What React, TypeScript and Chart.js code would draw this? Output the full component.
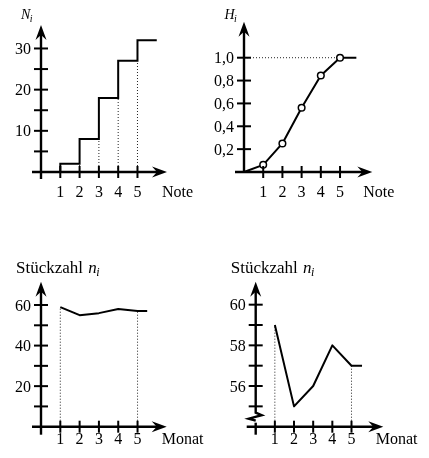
import React, { useEffect, useRef } from "react";
import { Chart, registerables } from "chart.js";
Chart.register(...registerables);

// ---------- data ----------
const notes = [1, 2, 3, 4, 5];
const cumCounts = [2, 8, 18, 27, 32]; // N_i
const relCum = [0.0625, 0.25, 0.5625, 0.84375, 1.0]; // H_i
const months = [1, 2, 3, 4, 5];
const pieces = [59, 55, 56, 58, 57]; // Stückzahl n_i

const yTicksN = [5, 10, 15, 20, 25, 30];
const yLabelsN = [10, 20, 30];
const yTicksH = [0.2, 0.4, 0.6, 0.8, 1.0];
const yLabelsH = [0.2, 0.4, 0.6, 0.8, 1.0];
const yTicksP = [10, 20, 30, 40, 50, 60];
const yLabelsP = [20, 40, 60];
const yTicksZ = [55, 56, 57, 58, 59, 60];
const yLabelsZ = [56, 58, 60];

const SERIF = '"Liberation Serif"';

type Ctx = CanvasRenderingContext2D;

function arrowUp(ctx: Ctx, x: number, y: number) {
  ctx.beginPath();
  ctx.moveTo(x, y);
  ctx.lineTo(x + 5.5, y + 15);
  ctx.lineTo(x, y + 10);
  ctx.lineTo(x - 5.5, y + 15);
  ctx.closePath();
  ctx.fill();
}
function arrowRight(ctx: Ctx, x: number, y: number) {
  ctx.beginPath();
  ctx.moveTo(x, y);
  ctx.lineTo(x - 15, y - 5.5);
  ctx.lineTo(x - 10, y);
  ctx.lineTo(x - 15, y + 5.5);
  ctx.closePath();
  ctx.fill();
}

type Deco = {
  xTicks: number[];
  yTicks: number[];
  yLabels: number[];
  fmt: (v: number) => string;
  xLabelDy: number;
  xTitle: string;
  xTitleDx: number;
  yTitle: (ctx: Ctx, x0: number, top: number) => void;
  yBreak?: boolean;
  yBottomExt: number;
  dotted: (chart: any, ctx: Ctx) => void;
};

function makePlugin(d: Deco) {
  return {
    id: "deco",
    beforeDatasetsDraw(chart: any) {
      const ctx: Ctx = chart.ctx;
      ctx.save();
      ctx.strokeStyle = "#222";
      ctx.lineWidth = 1;
      ctx.setLineDash([1, 2]);
      d.dotted(chart, ctx);
      ctx.restore();
    },
    afterDatasetsDraw(chart: any) {
      const ctx: Ctx = chart.ctx;
      const xs = chart.scales.x;
      const ys = chart.scales.y;
      const ca = chart.chartArea;
      const x0 = ca.left;
      const y0 = ca.bottom;
      ctx.save();
      ctx.strokeStyle = "#000";
      ctx.fillStyle = "#000";
      ctx.lineWidth = 2.4;
      ctx.lineCap = "butt";
      // x axis
      ctx.beginPath();
      ctx.moveTo(x0 - 9, y0);
      ctx.lineTo(ca.right - 8, y0);
      ctx.stroke();
      arrowRight(ctx, ca.right, y0);
      // y axis
      ctx.beginPath();
      if (d.yBreak) {
        ctx.moveTo(x0, ca.top + 8);
        ctx.lineTo(x0, y0 - 14);
        ctx.lineTo(x0 + 6, y0 - 11.5);
        ctx.lineTo(x0 - 7, y0 - 8);
        ctx.lineTo(x0, y0 - 6);
        ctx.stroke();
        ctx.beginPath();
        ctx.moveTo(x0, y0 - 4);
        ctx.lineTo(x0, y0 + d.yBottomExt);
      } else {
        ctx.moveTo(x0, y0 + d.yBottomExt);
        ctx.lineTo(x0, ca.top + 8);
      }
      ctx.stroke();
      arrowUp(ctx, x0, ca.top);
      // ticks
      ctx.lineWidth = 2;
      d.xTicks.forEach((v) => {
        const px = xs.getPixelForValue(v);
        ctx.beginPath();
        ctx.moveTo(px, y0 - 6);
        ctx.lineTo(px, y0 + 6);
        ctx.stroke();
      });
      d.yTicks.forEach((v) => {
        const py = ys.getPixelForValue(v);
        ctx.beginPath();
        ctx.moveTo(x0 - 7, py);
        ctx.lineTo(x0 + 7, py);
        ctx.stroke();
      });
      // labels
      ctx.font = `16px ${SERIF}`;
      ctx.textAlign = "center";
      ctx.textBaseline = "alphabetic";
      d.xTicks.forEach((v) => {
        ctx.fillText(String(v), xs.getPixelForValue(v), y0 + d.xLabelDy);
      });
      ctx.textAlign = "right";
      d.yLabels.forEach((v) => {
        ctx.fillText(d.fmt(v), x0 - 10, ys.getPixelForValue(v) + 5.5);
      });
      ctx.textAlign = "left";
      ctx.fillText(d.xTitle, ca.right + d.xTitleDx, y0 + d.xLabelDy);
      d.yTitle(ctx, x0, ca.top);
      ctx.restore();
    },
  };
}

function italicSub(ctx: Ctx, letter: string, x: number, y: number, size: number) {
  ctx.font = `italic ${size}px ${SERIF}`;
  ctx.fillText(letter, x, y);
  const w = ctx.measureText(letter).width;
  ctx.font = `italic ${Math.round(size * 0.72)}px ${SERIF}`;
  ctx.fillText("i", x + w - 0.5, y + 3);
}

function stueck(ctx: Ctx, x: number, y: number) {
  ctx.font = `17px ${SERIF}`;
  ctx.fillText("Stückzahl", x, y);
  const w = ctx.measureText("Stückzahl ").width;
  italicSub(ctx, "n", x + w + 1, y, 17);
}

type Spec = {
  left: number;
  top: number;
  w: number;
  h: number;
  pad: { left: number; right: number; top: number; bottom: number };
  xMax: number;
  yMin: number;
  yMax: number;
  datasets: any[];
  deco: Deco;
};

function Panel({ spec }: { spec: Spec }) {
  const ref = useRef<HTMLCanvasElement>(null);
  useEffect(() => {
    const chart = new Chart(ref.current as HTMLCanvasElement, {
      type: "line",
      data: { datasets: spec.datasets },
      options: {
        responsive: false,
        animation: false,
        devicePixelRatio: 1,
        layout: { padding: spec.pad },
        plugins: { legend: { display: false }, tooltip: { enabled: false } },
        events: [],
        scales: {
          x: { type: "linear", min: 0, max: spec.xMax, display: false },
          y: { type: "linear", min: spec.yMin, max: spec.yMax, display: false },
        },
      },
      plugins: [makePlugin(spec.deco)],
    } as any);
    let alive = true;
    const redraw = () => {
      if (alive) chart.update();
    };
    const fonts = (document as any).fonts;
    if (fonts) {
      Promise.all([
        fonts.load(`16px "Liberation Serif"`, "Note 30"),
        fonts.load(`italic 16px "Liberation Serif"`, "NHni"),
      ]).then(redraw, redraw);
      fonts.ready.then(() => setTimeout(redraw, 50));
    }
    const t1 = setTimeout(redraw, 150);
    return () => {
      alive = false;
      clearTimeout(t1);
      chart.destroy();
    };
  }, []);
  return (
    <canvas
      ref={ref}
      width={spec.w}
      height={spec.h}
      style={{ position: "absolute", left: spec.left, top: spec.top, width: spec.w, height: spec.h }}
    />
  );
}

const lineBase = {
  borderColor: "#000",
  borderWidth: 2,
  pointRadius: 0,
  tension: 0,
  clip: false,
  borderJoinStyle: "miter",
  fill: false,
};

const specs: Spec[] = [
  {
    left: 0,
    top: 0,
    w: 214,
    h: 210,
    pad: { left: 41, right: 47, top: 25, bottom: 38 },
    xMax: 6.53,
    yMin: 0,
    yMax: 35.7,
    datasets: [
      {
        ...lineBase,
        stepped: "before",
        data: [{ x: 0, y: 0 }, ...notes.map((n, i) => ({ x: n, y: cumCounts[i] })), { x: 6, y: cumCounts[4] }],
      },
    ],
    deco: {
      xTicks: notes,
      yTicks: yTicksN,
      yLabels: yLabelsN,
      fmt: (v) => String(v),
      xLabelDy: 24.5,
      xTitle: "Note",
      xTitleDx: -5,
      yBottomExt: 7,
      yTitle: (ctx, x0, top) => italicSub(ctx, "N", x0 - 20, top - 6, 14),
      dotted: (chart, ctx) => {
        const xs = chart.scales.x, ys = chart.scales.y;
        notes.forEach((n, i) => {
          if (i === 0) return;
          const px = xs.getPixelForValue(n);
          ctx.beginPath();
          ctx.moveTo(px, ys.getPixelForValue(0));
          ctx.lineTo(px, ys.getPixelForValue(cumCounts[i - 1]));
          ctx.stroke();
        });
      },
    },
  },
  {
    left: 214,
    top: 0,
    w: 215,
    h: 210,
    pad: { left: 30, right: 56.7, top: 21.7, bottom: 38 },
    xMax: 6.68,
    yMin: 0,
    yMax: 1.315,
    datasets: [
      {
        ...lineBase,
        borderJoinStyle: "round",
        pointRadius: (c: any) => (c.dataIndex === 0 || c.dataIndex === 6 ? 0 : 3.3),
        pointBackgroundColor: "#fff",
        pointBorderColor: "#000",
        pointBorderWidth: 1.5,
        data: [{ x: 0, y: 0 }, ...notes.map((n, i) => ({ x: n, y: relCum[i] })), { x: 5.85, y: relCum[4] }],
      },
    ],
    deco: {
      xTicks: notes,
      yTicks: yTicksH,
      yLabels: yLabelsH,
      fmt: (v) => v.toFixed(1).replace(".", ","),
      xLabelDy: 24.5,
      xTitle: "Note",
      xTitleDx: -9,
      yBottomExt: 0,
      yTitle: (ctx, x0, top) => italicSub(ctx, "H", x0 - 19.5, top - 2.7, 14),
      dotted: (chart, ctx) => {
        const xs = chart.scales.x, ys = chart.scales.y;
        const py = ys.getPixelForValue(1);
        ctx.beginPath();
        ctx.moveTo(xs.getPixelForValue(0), py);
        ctx.lineTo(xs.getPixelForValue(5), py);
        ctx.stroke();
      },
    },
  },
  {
    left: 0,
    top: 240,
    w: 214,
    h: 218,
    pad: { left: 41, right: 47.3, top: 41.7, bottom: 31.3 },
    xMax: 6.51,
    yMin: 0,
    yMax: 71.5,
    datasets: [
      {
        ...lineBase,
        borderJoinStyle: "round",
        data: [...months.map((m, i) => ({ x: m, y: pieces[i] })), { x: 5.5, y: pieces[4] }],
      },
    ],
    deco: {
      xTicks: months,
      yTicks: yTicksP,
      yLabels: yLabelsP,
      fmt: (v) => String(v),
      xLabelDy: 16.8,
      xTitle: "Monat",
      xTitleDx: -5,
      yBottomExt: 8,
      yTitle: (ctx, x0, top) => stueck(ctx, x0 - 25, top - 9),
      dotted: (chart, ctx) => {
        const xs = chart.scales.x, ys = chart.scales.y;
        [0, 4].forEach((i) => {
          const px = xs.getPixelForValue(months[i]);
          ctx.beginPath();
          ctx.moveTo(px, ys.getPixelForValue(0));
          ctx.lineTo(px, ys.getPixelForValue(pieces[i]));
          ctx.stroke();
        });
      },
    },
  },
  {
    left: 214,
    top: 240,
    w: 215,
    h: 218,
    pad: { left: 41.7, right: 45.7, top: 41.7, bottom: 31.3 },
    xMax: 6.66,
    yMin: 54,
    yMax: 61.13,
    datasets: [
      {
        ...lineBase,
        borderJoinStyle: "round",
        data: [...months.map((m, i) => ({ x: m, y: pieces[i] })), { x: 5.55, y: pieces[4] }],
      },
    ],
    deco: {
      xTicks: months,
      yTicks: yTicksZ,
      yLabels: yLabelsZ,
      fmt: (v) => String(v),
      xLabelDy: 16.8,
      xTitle: "Monat",
      xTitleDx: -7.6,
      yBottomExt: 8,
      yBreak: true,
      yTitle: (ctx, x0, top) => stueck(ctx, x0 - 25, top - 9),
      dotted: (chart, ctx) => {
        const xs = chart.scales.x, ys = chart.scales.y;
        [0, 4].forEach((i) => {
          const px = xs.getPixelForValue(months[i]);
          ctx.beginPath();
          ctx.moveTo(px, chart.chartArea.bottom);
          ctx.lineTo(px, ys.getPixelForValue(pieces[i]));
          ctx.stroke();
        });
      },
    },
  },
];

export default function App() {
  return (
    <div style={{ position: "absolute", left: 0, top: 0, width: 429, height: 458, background: "#fff" }}>
      {specs.map((s, i) => (
        <Panel key={i} spec={s} />
      ))}
    </div>
  );
}
